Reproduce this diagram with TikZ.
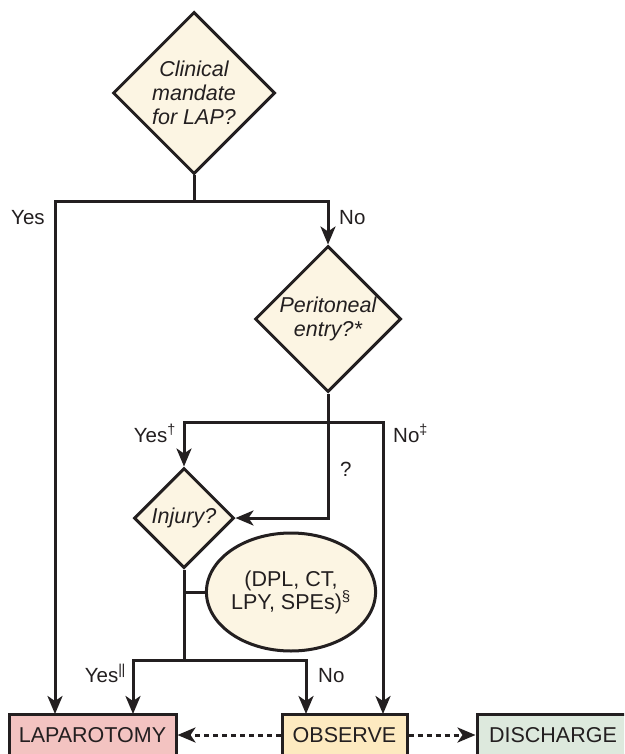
\documentclass[tikz,border=0pt]{standalone}
\usepackage{fontspec}
\setmainfont{Liberation Sans}
\usetikzlibrary{shapes.geometric,arrows.meta}
\definecolor{ink}{HTML}{231F20}
\definecolor{cream}{HTML}{FCF5E3}
\definecolor{lapfill}{HTML}{F3C3C1}
\definecolor{obsfill}{HTML}{FDEAC0}
\definecolor{disfill}{HTML}{DDE9DD}
\tikzset{
  conn/.style={draw=ink, line width=3pt},
  arr/.style={conn, -{Stealth[length=18pt,width=15pt,inset=5pt]}},
  darr/.style={arr, dash pattern=on 5pt off 4pt},
  decision/.style={diamond, aspect=1, draw=ink, fill=cream, line width=3pt, inner sep=0pt,
    align=center, font=\fontsize{21.5}{24}\selectfont\itshape, text=ink},
  test/.style={ellipse, draw=ink, fill=cream, line width=3pt, inner sep=0pt,
    minimum width=146pt, minimum height=118pt, align=center, font=\fontsize{21.5}{23}\selectfont, text=ink},
  outcome/.style={rectangle, draw=ink, line width=3pt, inner sep=0pt,
    minimum height=42pt, font=\fontsize{21.5}{24}\selectfont, text=ink},
  lbl/.style={inner sep=0pt, font=\fontsize{20.5}{24}\selectfont, text=ink},
}
\begin{document}
\begin{tikzpicture}[x=1pt,y=1pt]
\useasboundingbox (0,0) rectangle (624,-754);
\clip (0,0) rectangle (624,-754);
\fill[white] (0,0) rectangle (624,-754);

% decisions
\node[decision, minimum width=162pt, minimum height=162pt] (d1) at (194,-93) {Clinical\\mandate\\for LAP?};
\node[decision, minimum width=146pt, minimum height=146pt] (d2) at (328,-319) {Peritoneal\\entry?*};
\node[decision, minimum width=100pt, minimum height=100pt] (d3) at (184,-518) {Injury?};
\node[test] (ell) at (291,-592) {(DPL, CT,\\LPY, SPEs)\textsuperscript{\S}};

% outcomes
\node[outcome, fill=lapfill, minimum width=167pt] (lap) at (92.5,-735) {LAPAROTOMY};
\node[outcome, fill=obsfill, minimum width=125pt] (obs) at (344.5,-735) {OBSERVE};
\node[outcome, fill=disfill, minimum width=152pt] (dis) at (553,-735) {DISCHARGE};

% junctions and arrow targets
\coordinate (j1) at (194,-201);
\coordinate (lapA) at (55,-714);
\coordinate (j2) at (328,-422);
\coordinate (j2q) at (328,-518);
\coordinate (obsA) at (383,-714);
\coordinate (j3) at (184,-660);
\coordinate (j3e) at (184,-592);
\coordinate (lapB) at (133,-714);
\coordinate (obsB) at (306,-714);

% connectors
\draw[conn] (d1.south) -- (j1);
\draw[arr] (j1) -| (lapA);
\draw[arr] (j1) -| (d2.north);

\draw[conn] (d2.south) -- (j2);
\draw[arr] (j2) -| (d3.north);
\draw[arr] (j2) -| (obsA);
\draw[arr] (j2) -- (j2q) -- (d3.east);

\draw[conn] (d3.south) -- (j3);
\draw[conn] (j3e) -- (ell.west);
\draw[arr] (j3) -| (lapB);
\draw[arr] (j3) -| (obsB);

\draw[darr] (obs.west) -- (lap.east);
\draw[darr] (obs.east) -- (dis.west);

% labels
\node[lbl, anchor=base west] (yes1) at (11,-224) {Yes};
\node[lbl, anchor=base west] (no1) at (339,-224) {No};
\node[lbl, anchor=base east] (yes2) at (176,-442) {Yes\textsuperscript{\dag}};
\node[lbl, anchor=base west] (no2) at (393,-442) {No\textsuperscript{\ddag}};
\node[lbl, anchor=base west] (q) at (340,-476) {?};
\node[lbl, anchor=base east] (yes3) at (126,-682) {Yes\textsuperscript{|\kern-0.5pt|}};
\node[lbl, anchor=base west] (no3) at (318,-682) {No};
\end{tikzpicture}
\end{document}
